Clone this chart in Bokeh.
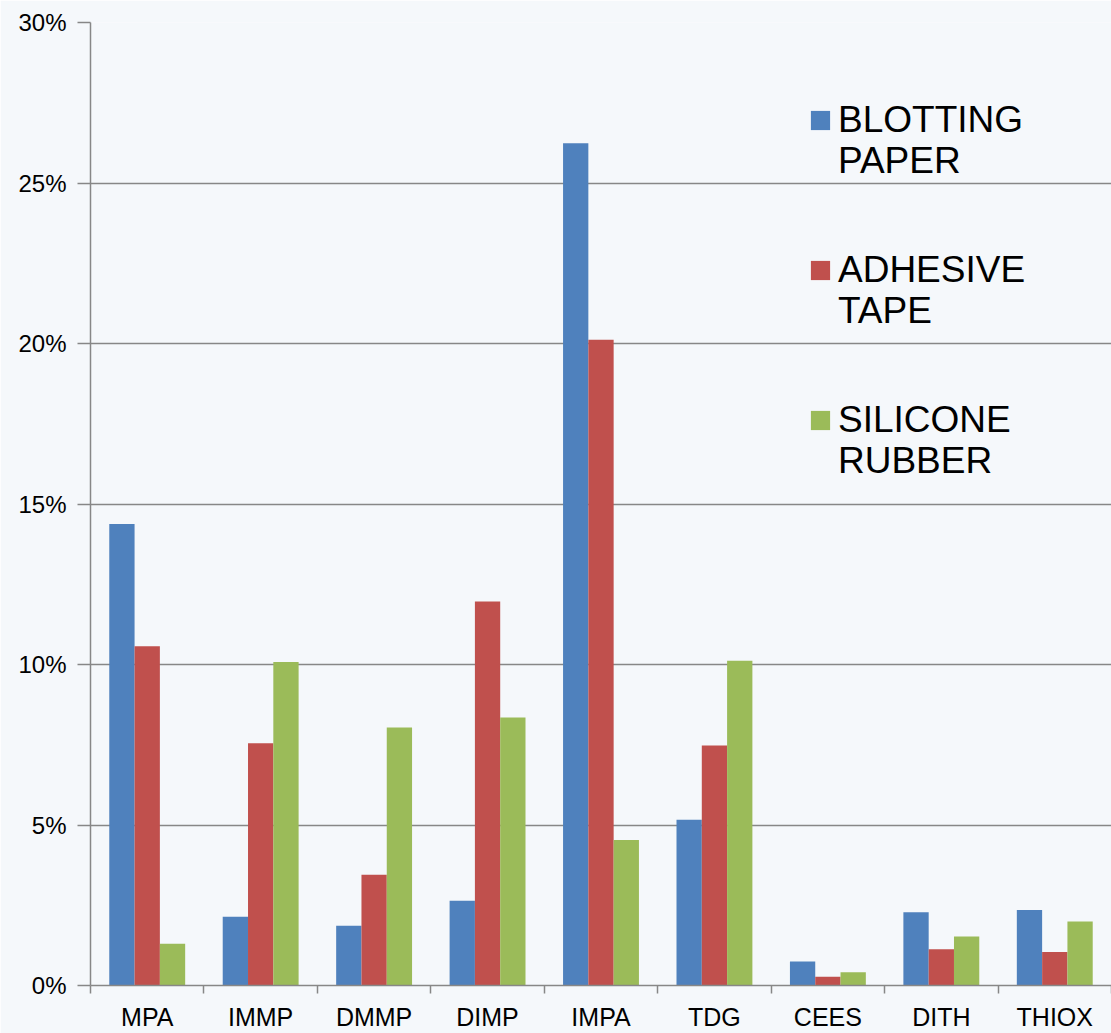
from bokeh.plotting import figure
from bokeh.models import (Range1d, FixedTicker, NumeralTickFormatter, Legend, LegendItem,
                          ColumnDataSource)
from bokeh.transform import dodge
from bokeh.embed import file_html
from bokeh.resources import INLINE

categories = ["MPA", "IMMP", "DMMP", "DIMP", "IMPA", "TDG", "CEES", "DITH", "THIOX"]
blotting_paper = [0.1438, 0.0214, 0.0186, 0.0264, 0.2624, 0.0516, 0.0075, 0.0228, 0.0235]
adhesive_tape = [0.1057, 0.0755, 0.0345, 0.1196, 0.2012, 0.0748, 0.0027, 0.0113, 0.0104]
silicone_rubber = [0.0130, 0.1008, 0.0804, 0.0835, 0.0453, 0.1012, 0.0041, 0.0153, 0.0199]
series_line1 = ["BLOTTING", "ADHESIVE", "SILICONE"]
series_line2 = ["PAPER", "TAPE", "RUBBER"]
colors = ["#4f81bd", "#c0504d", "#9bbb59"]
y_ticks = [0.0, 0.05, 0.10, 0.15, 0.20, 0.25, 0.30]

FONT = "Liberation Sans"
GREY = "#878787"
BG = "#f5f8fb"

positions = [i + 0.5 for i in range(len(categories))]
source = ColumnDataSource(dict(
    pos=positions,
    cat=categories,
    blot=blotting_paper,
    tape=adhesive_tape,
    rubber=silicone_rubber,
))

p = figure(width=1111, height=1033,
           x_range=Range1d(0, len(categories)), y_range=Range1d(0, 0.30),
           output_backend="svg", toolbar_location=None,
           min_border_left=90, min_border_right=0, min_border_top=22, min_border_bottom=45,
           background_fill_color=BG, border_fill_color=BG, outline_line_color=None)

bw = 0.223
renderers = []
for col, off, c in zip(["blot", "tape", "rubber"], [-bw, 0.0, bw], colors):
    r = p.vbar(x=dodge("pos", off, range=p.x_range), top=col, width=bw, bottom=0,
               source=source, fill_color=c, line_color=None)
    renderers.append(r)

# x axis: labels at category centres, ticks at category boundaries
xa = p.xaxis[0]
xa.ticker = FixedTicker(ticks=positions, minor_ticks=list(range(len(categories) + 1)))
xa.major_label_overrides = {pos: cat for pos, cat in zip(positions, categories)}
xa.major_tick_in = 0
xa.major_tick_out = 0
xa.minor_tick_in = 0
xa.minor_tick_out = 8
xa.minor_tick_line_color = GREY
xa.minor_tick_line_width = 1.5
xa.axis_line_color = GREY
xa.axis_line_width = 1.5
xa.major_label_text_font = FONT
xa.major_label_text_font_size = "25px"
xa.major_label_text_color = "#000000"
xa.major_label_standoff = 9

ya = p.yaxis[0]
ya.ticker = FixedTicker(ticks=y_ticks, minor_ticks=[])
ya.formatter = NumeralTickFormatter(format="0%")
ya.major_tick_in = 0
ya.major_tick_out = 13
ya.major_tick_line_color = GREY
ya.major_tick_line_width = 1.5
ya.axis_line_color = GREY
ya.axis_line_width = 1.5
ya.major_label_text_font = FONT
ya.major_label_text_font_size = "24px"
ya.major_label_text_color = "#000000"
ya.major_label_standoff = 11

p.xgrid.grid_line_color = None
p.ygrid.ticker = FixedTicker(ticks=y_ticks)
p.ygrid.grid_line_color = GREY
p.ygrid.grid_line_width = 1.5

common = dict(orientation="vertical", padding=0, margin=0,
              label_text_font=FONT, label_text_font_size="37px", label_text_color="#000000",
              background_fill_alpha=0, border_line_color=None, spacing=108)

legend_a = Legend(items=[LegendItem(label=l, renderers=[r]) for l, r in zip(series_line1, renderers)],
                  location=(718, 544), glyph_width=24, glyph_height=24, label_standoff=6,
                  **common)
legend_b = Legend(items=[LegendItem(label=l, renderers=[r]) for l, r in zip(series_line2, renderers)],
                  location=(748, 503), glyph_width=0, glyph_height=19, label_standoff=0,
                  **common)
p.add_layout(legend_a)
p.add_layout(legend_b)

open("out.html", "w").write(file_html(p, INLINE))
